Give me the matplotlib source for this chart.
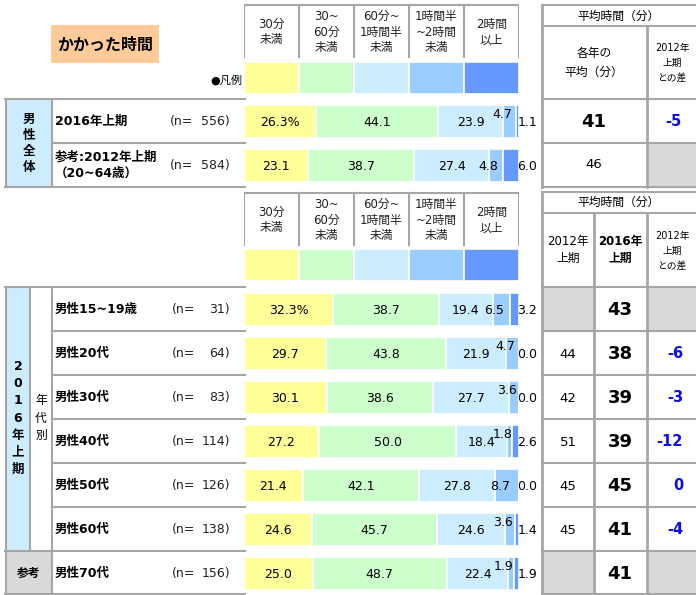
import matplotlib.pyplot as plt
from matplotlib.patches import Rectangle

plt.rcParams['font.family'] = ['DejaVu Sans', 'Noto Sans CJK JP']

# ---- data ----
categories = ['30分\n未満', '30~\n60分\n未満', '60分~\n1時間半\n未満', '1時間半\n~2時間\n未満', '2時間\n以上']
colors = ['#FFFF99', '#CCFFCC', '#CCECFF', '#99CCFF', '#6699FF']

top_labels = ['2016年上期', '参考:2012年上期\n（20~64歳）']
top_n = [556, 584]
top_values = [
    [26.3, 44.1, 23.9, 4.7, 1.1],
    [23.1, 38.7, 27.4, 4.8, 6.0],
]
top_avg = [41, 46]
top_diff = [-5, None]

age_labels = ['男性15~19歳', '男性20代', '男性30代', '男性40代', '男性50代', '男性60代', '男性70代']
age_n = [31, 64, 83, 114, 126, 138, 156]
age_values = [
    [32.3, 38.7, 19.4, 6.5, 3.2],
    [29.7, 43.8, 21.9, 4.7, 0.0],
    [30.1, 38.6, 27.7, 3.6, 0.0],
    [27.2, 50.0, 18.4, 1.8, 2.6],
    [21.4, 42.1, 27.8, 8.7, 0.0],
    [24.6, 45.7, 24.6, 3.6, 1.4],
    [25.0, 48.7, 22.4, 1.9, 1.9],
]
avg_2012 = [None, 44, 42, 51, 45, 45, None]
avg_2016 = [43, 38, 39, 39, 45, 41, 41]
diff_2012 = [None, -6, -3, -12, 0, -4, None]

# ---- layout (pixels) ----
W, H = 696, 595
GRID = '#A6A6A6'
GRAY = '#D9D9D9'
LBLUE = '#CCECFF'
BLUE_TXT = '#0A0AEE'

fig = plt.figure(figsize=(W / 100, H / 100), dpi=100)
ax = fig.add_axes([0, 0, 1, 1])
ax.set_xlim(0, W)
ax.set_ylim(H, 0)
ax.axis('off')

# bar axes: 0..100% spans x = 244..519 px, y in pixels
bx = fig.add_axes([244 / W, 0, 275 / W, 1])
bx.set_xlim(0, 100)
bx.set_ylim(H, 0)
bx.axis('off')


def hline(a, y, x0, x1, lw=1.5):
    a.plot([x0, x1], [y, y], color=GRID, lw=lw, solid_capstyle='projecting')


def vline(a, x, y0, y1, lw=1.5):
    a.plot([x, x], [y0, y1], color=GRID, lw=lw, solid_capstyle='projecting')


def header(y_top, y_bot, y_legend):
    hline(bx, y_top, 0, 100)
    for k in range(6):
        vline(bx, k * 20, y_top, y_bot)
    for k, c in enumerate(categories):
        bx.text(k * 20 + 10, (y_top + y_bot) / 2 + 1, c, ha='center', va='center',
                fontsize=8.5, linespacing=1.3, color='#222222')
    bx.barh([y_legend] * 5, [20] * 5, left=[0, 20, 40, 60, 80], height=32,
            color=colors, edgecolor='white', linewidth=1.2)


def bars(rows, ys):
    for vals, y in zip(rows, ys):
        left = 0
        for i, v in enumerate(vals):
            bx.barh(y, v, left=left, height=33, color=colors[i],
                    edgecolor='white', linewidth=1.2)
            if i < 3:
                txt = f'{v:.1f}%' if (i == 0 and y == ys[0]) else f'{v:.1f}'
                bx.text(left + v / 2, y + 1, txt, ha='center', va='center', fontsize=9)
            elif i == 3:
                dy = -7 if v < 4.75 else 0
                bx.text(left + v / 2 - 2.6, y + 1 + dy, f'{v:.1f}', ha='center',
                        va='center', fontsize=9)
            else:
                bx.text(99.4, y + 1, f'{v:.1f}', ha='left', va='center', fontsize=9)
            left += v


# ---- top section ----
ax.add_patch(Rectangle((51, 25), 108, 38, color='#FFCC99', lw=0))
ax.text(105, 45, 'かかった時間', ha='center', va='center', fontsize=11.5, fontweight='bold')
ax.text(242, 80, '●凡例', ha='right', va='center', fontsize=8)

header(5, 57, 77.5)
top_y = [121, 165]
bars(top_values, top_y)

ax.add_patch(Rectangle((6, 99), 46, 88, facecolor=LBLUE, edgecolor='none'))
hline(ax, 99, 5, 245)
hline(ax, 143, 52, 245)
hline(ax, 187, 5, 245)
vline(ax, 6, 99, 187)
vline(ax, 52, 99, 187)
ax.text(29, 143, '男\n性\n全\n体', ha='center', va='center', fontsize=9,
        fontweight='bold', linespacing=1.3)
for lab, n, y in zip(top_labels, top_n, top_y):
    ax.text(55, y, lab, ha='left', va='center', fontsize=9, fontweight='bold',
            linespacing=1.35)
    ax.text(170, y + 1, '(n=', ha='left', va='center', fontsize=9, color='#222222')
    ax.text(230, y + 1, f'{n})', ha='right', va='center', fontsize=9, color='#222222')

# right table (top)
ax.add_patch(Rectangle((647, 143), 49, 44, color=GRAY, lw=0))
for y in [5, 26, 99, 143, 187]:
    hline(ax, y, 542, 697)
vline(ax, 542, 5, 187, lw=2)
vline(ax, 647, 26, 187, lw=2)
ax.text(619, 16, '平均時間（分）', ha='center', va='center', fontsize=8.5)
ax.text(594, 63, '各年の\n平均（分）', ha='center', va='center', fontsize=8.5, linespacing=1.5)
ax.text(672, 63, '2012年\n上期\nとの差', ha='center', va='center', fontsize=7, linespacing=1.65)
ax.text(594, 122, str(top_avg[0]), ha='center', va='center', fontsize=13, fontweight='bold')
ax.text(594, 165, str(top_avg[1]), ha='center', va='center', fontsize=9.5)
ax.text(682, 122, str(top_diff[0]), ha='right', va='center', fontsize=10.5,
        fontweight='bold', color=BLUE_TXT)

# ---- bottom section ----
header(193, 245, 265)
age_y = [309, 353, 397, 441, 485, 529, 573]
bars(age_values, age_y)

ax.add_patch(Rectangle((6, 287), 23.5, 264, facecolor=LBLUE, edgecolor='none'))
ax.add_patch(Rectangle((6, 551), 46, 43, facecolor=GRAY, edgecolor='none'))
hline(ax, 287, 5, 245)
for y in [331, 375, 419, 463, 507]:
    hline(ax, y, 52, 245)
hline(ax, 551, 5, 245)
hline(ax, 594, 5, 245)
vline(ax, 6, 287, 594)
vline(ax, 29.5, 287, 551)
vline(ax, 52, 287, 594)
ax.text(18, 418, '2\n0\n1\n6\n年\n上\n期', ha='center', va='center', fontsize=9,
        fontweight='bold', linespacing=1.42)
ax.text(41, 418, '年\n代\n別', ha='center', va='center', fontsize=8.5, linespacing=1.42)
ax.text(29, 573, '参考', ha='center', va='center', fontsize=8.5, fontweight='bold')
for lab, n, y in zip(age_labels, age_n, age_y):
    ax.text(55, y, lab, ha='left', va='center', fontsize=9, fontweight='bold')
    ax.text(172, y + 1, '(n=', ha='left', va='center', fontsize=9, color='#222222')
    ax.text(230, y + 1, f'{n})', ha='right', va='center', fontsize=9, color='#222222')

# right table (bottom)
for i, y in enumerate(age_y):
    if avg_2012[i] is None:
        ax.add_patch(Rectangle((542, y - 22), 52, 44, color=GRAY, lw=0))
    if diff_2012[i] is None:
        ax.add_patch(Rectangle((647, y - 22), 49, 44, color=GRAY, lw=0))
for y in [192, 213, 287, 331, 375, 419, 463, 507, 551, 594]:
    hline(ax, y, 542, 697)
vline(ax, 542, 192, 594, lw=2)
vline(ax, 594, 213, 594, lw=2)
vline(ax, 647, 213, 594, lw=2)
ax.text(619, 202, '平均時間（分）', ha='center', va='center', fontsize=8.5)
ax.text(568, 250, '2012年\n上期', ha='center', va='center', fontsize=8.5, linespacing=1.4)
ax.text(620, 250, '2016年\n上期', ha='center', va='center', fontsize=8.5,
        fontweight='bold', linespacing=1.4)
ax.text(672, 251, '2012年\n上期\nとの差', ha='center', va='center', fontsize=7, linespacing=1.65)
for i, y in enumerate(age_y):
    if avg_2012[i] is not None:
        ax.text(568, y + 1, str(avg_2012[i]), ha='center', va='center', fontsize=9.5)
    ax.text(620, y + 1, str(avg_2016[i]), ha='center', va='center', fontsize=13,
            fontweight='bold')
    if diff_2012[i] is not None:
        ax.text(683, y + 1, str(diff_2012[i]), ha='right', va='center', fontsize=10.5,
                fontweight='bold', color=BLUE_TXT)

fig.savefig('out.png', dpi=100)
